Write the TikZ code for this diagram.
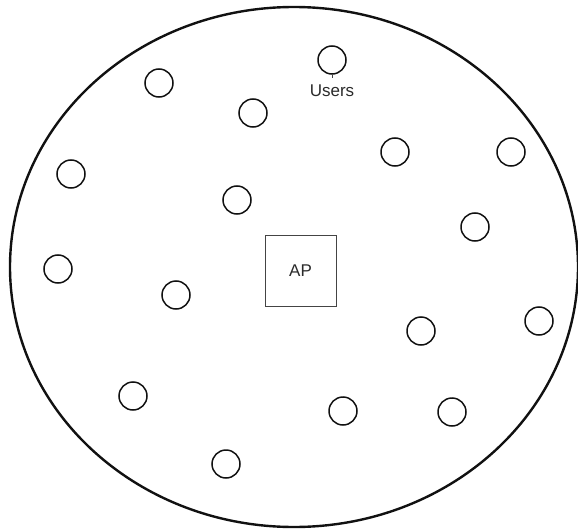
\documentclass[tikz,border=0pt]{standalone}
\usepackage{fontspec}
\setmainfont{Liberation Sans}
\usepackage{xcolor}
\definecolor{cLine}{HTML}{111111}
\definecolor{cBox}{HTML}{444444}
\definecolor{cText}{HTML}{2A2A2A}
\usepackage{tikz}
\usetikzlibrary{positioning}
\tikzset{
  cell-area/.style={draw=cLine,line width=2.4pt},
  node-user/.style={draw=cLine,line width=1.5pt,circle,minimum size=28pt,
    inner sep=0pt},
  node-ap/.style={draw=cBox,line width=1pt,minimum width=71pt,
    minimum height=71pt,inner sep=0pt,font=\fontsize{17}{20}\selectfont,
    text=cText},
  node-label/.style={inner sep=0pt,outer sep=0pt,
    font=\fontsize{17}{20}\selectfont,text=cText},
}

\begin{document}
\begin{tikzpicture}[x=1pt,y=-1pt]
  \useasboundingbox (0,0) rectangle (578,532);
  % coverage area of the access point
  \draw[cell-area] (294,267) ellipse [x radius=284, y radius=260];
  \node[node-ap] at (300.5,270.5) (AP) {AP};
  % users spread over the cell
  \foreach \name/\x/\y in {U1/332/60, U2/159/83, U3/253/113, U4/395/152,
      U5/511/152, U6/71/174, U7/237/200, U8/475/227, U9/58/269,
      U10/176/295, U11/421/331, U12/539/321, U13/133/396, U14/343/411,
      U15/452/412, U16/226/464} {
    \node[node-user] at (\x,\y) (\name) {};
  }
  \coordinate[below=3pt of U1] (U1-tick);
  \draw[cBox,line width=0.8pt] (U1) -- (U1-tick);
  \node[node-label,below=10pt of U1] (users) {Users};
\end{tikzpicture}
\end{document}
